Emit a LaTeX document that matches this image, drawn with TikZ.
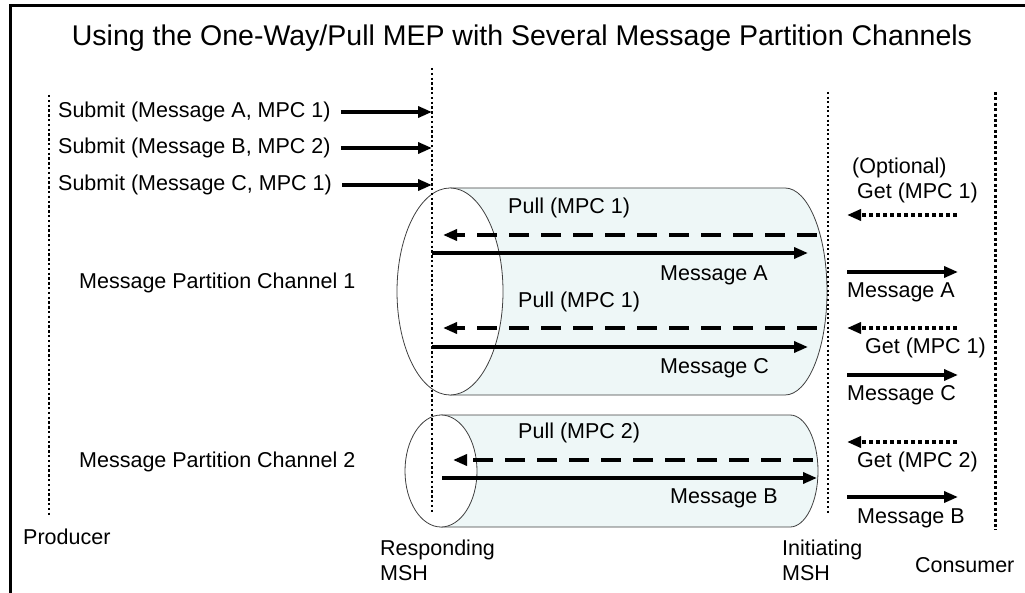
\documentclass[tikz,border=0pt]{standalone}
\usepackage{fontspec}
\setmainfont{Liberation Sans}
\usetikzlibrary{arrows.meta,positioning,calc}
\definecolor{pipeFill}{HTML}{EEF7F7}
\definecolor{pipeLine}{HTML}{404040}
\tikzset{
  >={Triangle[length=14pt,width=11pt]},
  titleText/.style={font=\fontsize{28.5}{34}\selectfont,inner sep=0pt},
  lblText/.style={font=\fontsize{21.5}{25}\selectfont,inner sep=0pt,anchor=west,align=left},
  lifeLine/.style={line width=2.4pt,dash pattern=on 2.4pt off 2.4pt},
  msgArrow/.style={->,line width=3.4pt},
  pullArrow/.style={->,line width=3.4pt,dash pattern=on 20pt off 12pt},
  getArrow/.style={->,line width=4pt,dash pattern=on 4pt off 3pt},
  pipeBody/.style={draw=pipeLine,line width=0.8pt,fill=pipeFill},
  pipeEnd/.style={draw=pipeLine,line width=0.8pt,fill=white},
}
\begin{document}
\begin{tikzpicture}[x=1pt,y=-1pt]
\useasboundingbox (0,0) rectangle (1025,593);

% frame and title
\draw[line width=3pt] (10,593) -- (10,6) -- (1025,6);
\node[titleText] (title) at (522,38) {Using the One-Way/Pull MEP with Several Message Partition Channels};

% message partition channels (pipes)
\draw[pipeBody] (450,188) -- (785,188)
  arc[start angle=-90,end angle=90,x radius=42,y radius=103.5] -- (450,395) -- cycle;
\draw[pipeEnd] (450,291.5) ellipse[x radius=53,y radius=103.5];
\draw[pipeBody] (441,415) -- (790,415)
  arc[start angle=-90,end angle=90,x radius=28,y radius=56] -- (441,527) -- cycle;
\draw[pipeEnd] (441,471) ellipse[x radius=36,y radius=56];

% lifelines
\coordinate (prodTop) at (49,95);  \coordinate (prodBot) at (49,515);
\coordinate (respTop) at (432,68); \coordinate (respBot) at (432,512);
\coordinate (initTop) at (828,92); \coordinate (initBot) at (828,515);
\coordinate (consTop) at (995,92); \coordinate (consBot) at (995,530);
\draw[lifeLine] (prodTop) -- (prodBot);
\draw[lifeLine] (respTop) -- (respBot);
\draw[lifeLine,line width=2pt,dash pattern=on 2pt off 2.6pt] (initTop) -- (initBot);
\draw[lifeLine,line width=3pt,dash pattern=on 3pt off 2.4pt] (consTop) -- (consBot);

% party labels
\node[lblText] (producer) at (23,537) {Producer};
\node[lblText] (respMSH) at (380,560) {Responding\\MSH};
\node[lblText] (initMSH) at (782,560) {Initiating\\MSH};
\node[lblText] (consumer) at (915,565) {Consumer};

% submits from the producer
\node[lblText] (subA) at (58,112) {Submit (Message A, MPC 1)};
\node[lblText] (subB) at (58,148) {Submit (Message B, MPC 2)};
\node[lblText] (subC) at (58,185) {Submit (Message C, MPC 1)};
\foreach \s in {subA,subB,subC}
  \draw[msgArrow] ([xshift=10pt]\s.east) -- (\s.east -| respTop);

\node[lblText] (chanOne) at (79,283) {Message Partition Channel 1};
\node[lblText] (chanTwo) at (79,462) {Message Partition Channel 2};

% channel 1: pulls and messages
\node[lblText] (pullA) at (508,208) {Pull (MPC 1)};
\draw[pullArrow] (817,235) -- (443,235);
\draw[msgArrow] (respTop |- 0,253) -- (808,253);
\node[lblText] (msgA) at (660,275) {Message A};
\node[lblText] (pullC) at (518,302) {Pull (MPC 1)};
\draw[pullArrow] (817,328) -- (443,328);
\draw[msgArrow] (respTop |- 0,347) -- (808,347);
\node[lblText] (msgC) at (660,368) {Message C};

% channel 2
\node[lblText] (pullB) at (518,433) {Pull (MPC 2)};
\draw[pullArrow] (813,460) -- (453,460);
\draw[msgArrow] (442,478) -- (817,478);
\node[lblText] (msgB) at (670,498) {Message B};

% consumer side
\node[lblText] (optNote) at (852,168) {(Optional)};
\node[lblText] (getA) at (857,193) {Get (MPC 1)};
\draw[getArrow] (957,215) -- (847,215);
\draw[msgArrow] (847,272) -- (958,272);
\node[lblText] (outA) at (847,292) {Message A};
\draw[getArrow] (957,328) -- (847,328);
\node[lblText] (getC) at (865,348) {Get (MPC 1)};
\draw[msgArrow] (847,375) -- (958,375);
\node[lblText] (outC) at (847,395) {Message C};
\draw[getArrow] (957,442) -- (847,442);
\node[lblText] (getB) at (857,462) {Get (MPC 2)};
\draw[msgArrow] (847,497) -- (958,497);
\node[lblText] (outB) at (857,518) {Message B};

\end{tikzpicture}
\end{document}
